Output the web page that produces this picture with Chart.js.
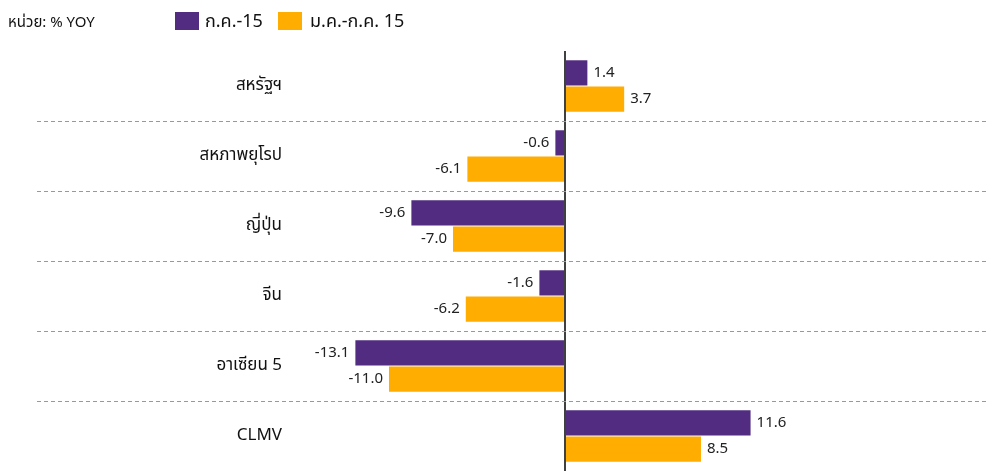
<!DOCTYPE html>
<html>
<head>
<meta charset="utf-8">
<script src="https://cdn.jsdelivr.net/npm/chart.js@4"></script>
<style>
  body { margin: 0; background: #fff; }
  #wrap { position: relative; width: 995px; height: 471px; font-family: Tahoma, "Noto Sans Thai", "Noto Sans", sans-serif; color: #111; }
  #chart { display: block; }
  #unit { position: absolute; left: 8px; top: 11px; font-size: 15px; }
  .key { position: absolute; top: 12px; height: 18px; width: 24px; }
  .ktxt { position: absolute; top: 8px; font-size: 18px; }
</style>
</head>
<body>
<div id="wrap">
  <canvas id="chart" width="995" height="471"></canvas>
  <div id="unit">หน่วย: % YOY</div>
  <div class="key" style="left:175px;background:#512C80"></div>
  <div class="ktxt" style="left:205px" id="l1"></div>
  <div class="key" style="left:278px;background:#FFAD00"></div>
  <div class="ktxt" style="left:310px" id="l2"></div>
</div>
<script>
const categories = ["สหรัฐฯ", "สหภาพยุโรป", "ญี่ปุ่น", "จีน", "อาเซียน 5", "CLMV"];
const seriesNames = ["ก.ค.-15", "ม.ค.-ก.ค. 15"];
const julValues = [1.4, -0.6, -9.6, -1.6, -13.1, 11.6];
const ytdValues = [3.7, -6.1, -7.0, -6.2, -11.0, 8.5];

const fontFamily = 'Tahoma, "Noto Sans Thai", "Noto Sans", sans-serif';

document.getElementById("l1").textContent = seriesNames[0];
document.getElementById("l2").textContent = seriesNames[1];

// category names, right aligned at x~282, drawn at the y scale positions
const categoryLabels = {
  id: "categoryLabels",
  afterDraw(chart) {
    const c = chart.ctx;
    const y = chart.scales.y;
    c.save();
    c.font = "17px " + fontFamily;
    c.fillStyle = "#111";
    c.textAlign = "right";
    c.textBaseline = "middle";
    chart.data.labels.forEach((lab, i) => {
      c.fillText(lab, chart.chartArea.left + 245, y.getPixelForValue(i) + 1);
    });
    c.restore();
  }
};

const valueLabels = {
  id: "valueLabels",
  afterDatasetsDraw(chart) {
    const c = chart.ctx;
    c.save();
    c.font = "15px " + fontFamily;
    c.fillStyle = "#222";
    c.textBaseline = "middle";
    chart.data.datasets.forEach((ds, i) => {
      chart.getDatasetMeta(i).data.forEach((bar, j) => {
        const v = ds.data[j];
        if (v >= 0) {
          c.textAlign = "left";
          c.fillText(v.toFixed(1), bar.x + 6, bar.y + 1);
        } else {
          c.textAlign = "right";
          c.fillText(v.toFixed(1), bar.x - 6, bar.y + 1);
        }
      });
    });
    c.restore();
  }
};

new Chart(document.querySelector("#chart"), {
  type: "bar",
  data: {
    labels: categories,
    datasets: [
      { label: seriesNames[0], data: julValues, backgroundColor: "#512C80" },
      { label: seriesNames[1], data: ytdValues, backgroundColor: "#FFAD00" }
    ]
  },
  options: {
    indexAxis: "y",
    responsive: false,
    animation: false,
    layout: { padding: { left: 37, right: 7, top: 51, bottom: 0 } },
    datasets: { bar: { categoryPercentage: 0.75, barPercentage: 0.96 } },
    plugins: {
      legend: { display: false },
      tooltip: { enabled: false }
    },
    scales: {
      x: {
        min: -33,
        max: 26.44,
        ticks: { display: false },
        border: { display: false },
        grid: {
          drawTicks: false,
          color: c => (c.tick && c.tick.value === 0 ? "#404040" : "transparent"),
          lineWidth: 2
        },
        afterFit: s => { s.height = 0; }
      },
      y: {
        border: { display: false, dash: [4, 3] },
        grid: {
          offset: true,
          drawTicks: false,
          color: c => (c.index > 0 ? "#999" : "transparent"),
          lineWidth: 1
        },
        ticks: { display: false },
        afterFit: s => { s.width = 0; }
      }
    }
  },
  plugins: [valueLabels, categoryLabels]
});
</script>
</body>
</html>
